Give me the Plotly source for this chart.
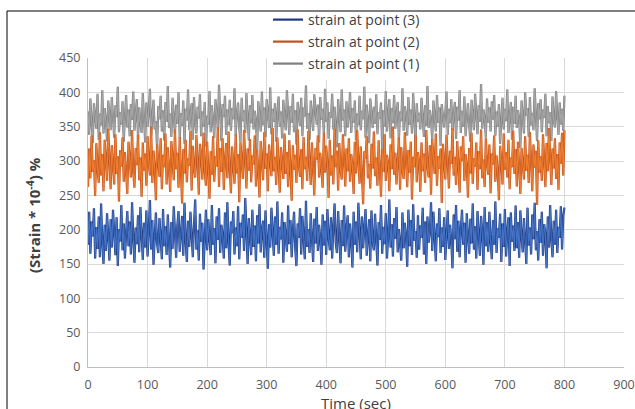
import plotly.graph_objects as go

step_sec = 2
time_sec = [i * step_sec for i in range(401)]

strain_point3 = [
178, 226, 165, 212, 190, 231, 158, 204, 172, 219, 160, 238, 181, 150, 207, 169, 224, 186, 155, 215,
174, 229, 192, 163, 218, 147, 201, 183, 236, 170, 209, 158, 195, 227, 176, 212, 164, 240, 188, 152,
203, 179, 221, 167, 233, 185, 156, 210, 174, 228, 161, 199, 243, 171, 214, 149, 190, 225, 180, 166,
217, 193, 157, 230, 176, 205, 163, 222, 188, 145, 211, 172, 234, 181, 159, 206, 227, 168, 196, 220,
162, 239, 184, 153, 213, 175, 226, 190, 160, 208, 244, 171, 199, 155, 223, 182, 210, 142, 194, 229,
170, 215, 187, 163, 236, 178, 202, 151, 219, 185, 231, 166, 207, 192, 158, 225, 173, 240, 181, 148,
212, 195, 227, 164, 203, 176, 234, 157, 210, 188, 222, 169, 246, 183, 150, 217, 192, 163, 229, 175,
206, 154, 221, 180, 237, 167, 199, 213, 159, 228, 185, 143, 208, 174, 232, 190, 162, 219, 178, 241,
165, 204, 186, 225, 152, 211, 193, 168, 235, 179, 214, 160, 198, 226, 172, 147, 209, 188, 231, 164,
220, 183, 157, 242, 175, 201, 166, 224, 191, 153, 216, 180, 233, 169, 207, 186, 149, 222, 177, 213,
163, 230, 189, 170, 218, 158, 205, 238, 181, 166, 227, 194, 151, 214, 176, 235, 168, 200, 221, 160,
209, 184, 145, 226, 178, 212, 167, 239, 190, 157, 219, 173, 203, 230, 162, 196, 215, 154, 228, 182,
170, 223, 193, 148, 211, 185, 236, 165, 204, 179, 224, 158, 192, 244, 174, 208, 161, 217, 187, 233,
167, 201, 180, 155, 225, 173, 210, 190, 146, 229, 176, 214, 163, 237, 184, 198, 159, 221, 171, 206,
188, 232, 164, 212, 150, 219, 181, 197, 240, 169, 226, 177, 154, 209, 189, 231, 166, 203, 175, 218,
156, 194, 228, 172, 207, 183, 144, 222, 186, 236, 168, 213, 160, 199, 229, 178, 210, 152, 224, 191,
165, 216, 180, 238, 171, 205, 158, 227, 187, 162, 220, 196, 149, 233, 176, 211, 168, 226, 183, 157,
214, 178, 241, 166, 202, 188, 223, 153, 209, 175, 230, 161, 197, 218, 147, 225, 182, 206, 169, 235,
173, 211, 159, 228, 190, 167, 217, 184, 150, 232, 177, 203, 164, 222, 186, 239, 170, 198, 155, 215,
181, 226, 162, 208, 193, 144, 219, 174, 236, 185, 160, 213, 178, 229, 166, 204, 188, 234, 171, 220,
232]

strain_point2 = [
262, 318, 275, 337, 284, 301, 249, 326, 290, 268, 342, 279, 310, 256, 331, 295, 271, 347, 287, 259,
323, 298, 266, 339, 281, 307, 241, 316, 292, 334, 270, 313, 288, 252, 328, 303, 276, 345, 283, 261,
319, 294, 338, 272, 305, 248, 327, 286, 311, 264, 336, 297, 279, 350, 268, 315, 290, 243, 324, 301,
277, 333, 259, 309, 291, 340, 266, 320, 284, 255, 329, 302, 272, 346, 288, 312, 261, 335, 296, 238,
317, 282, 331, 269, 304, 293, 344, 257, 322, 287, 276, 338, 299, 251, 325, 310, 273, 341, 285, 264,
328, 296, 245, 314, 280, 336, 270, 307, 292, 349, 262, 319, 284, 333, 258, 301, 326, 275, 343, 289,
253, 321, 298, 267, 339, 282, 310, 240, 327, 291, 274, 345, 303, 260, 318, 286, 332, 269, 308, 295,
337, 263, 316, 283, 247, 329, 300, 272, 342, 289, 311, 256, 324, 297, 278, 348, 285, 306, 265, 334,
292, 254, 320, 301, 274, 340, 281, 313, 262, 330, 295, 242, 323, 287, 309, 268, 346, 293, 277, 317,
259, 335, 288, 306, 271, 344, 298, 265, 327, 284, 250, 319, 302, 337, 276, 312, 290, 261, 341, 283,
322, 296, 246, 331, 279, 308, 266, 347, 291, 315, 257, 326, 287, 273, 339, 300, 263, 318, 285, 333,
270, 310, 294, 252, 328, 282, 345, 299, 267, 321, 286, 237, 314, 303, 336, 275, 296, 260, 325, 289,
343, 278, 305, 264, 330, 293, 248, 317, 284, 339, 271, 309, 297, 256, 324, 288, 350, 280, 312, 266,
301, 334, 258, 320, 287, 274, 342, 295, 262, 316, 283, 328, 244, 306, 291, 337, 269, 313, 299, 255,
327, 285, 311, 268, 345, 292, 276, 323, 251, 332, 297, 281, 340, 264, 307, 289, 318, 239, 325, 302,
273, 338, 290, 260, 315, 296, 348, 279, 306, 265, 329, 286, 254, 321, 300, 336, 271, 310, 293, 247,
319, 282, 341, 267, 304, 292, 327, 258, 314, 288, 346, 275, 302, 262, 333, 297, 280, 324, 253, 311,
295, 337, 270, 308, 284, 243, 322, 299, 266, 340, 287, 313, 276, 331, 259, 305, 291, 344, 281, 317,
263, 328, 294, 252, 319, 301, 273, 336, 286, 309, 268, 342, 297, 256, 324, 290, 315, 236, 330, 283,
307, 271, 339, 292, 262, 326, 285, 348, 298, 265, 318, 289, 333, 274, 310, 258, 327, 296, 341, 279,
345]

strain_point1 = [
372, 338, 391, 355, 326, 384, 362, 347, 398, 331, 369, 352, 403, 340, 377, 359, 329, 388, 366, 345,
393, 357, 334, 381, 364, 408, 342, 371, 353, 387, 328, 362, 396, 349, 375, 336, 383, 360, 401, 344,
368, 390, 332, 378, 355, 341, 399, 363, 327, 385, 350, 373, 405, 337, 366, 389, 346, 358, 318, 380,
361, 395, 343, 374, 330, 386, 357, 409, 348, 369, 335, 392, 365, 339, 382, 354, 400, 333, 370, 351,
388, 325, 376, 359, 404, 345, 367, 384, 331, 393, 356, 340, 379, 362, 397, 336, 372, 350, 386, 321,
366, 353, 402, 342, 381, 360, 334, 390, 371, 347, 411, 356, 329, 383, 364, 395, 338, 375, 352, 389,
344, 377, 361, 406, 337, 369, 385, 349, 327, 392, 358, 374, 341, 399, 363, 330, 381, 355, 396, 346,
373, 358, 314, 387, 365, 343, 401, 352, 378, 335, 390, 362, 348, 407, 339, 376, 357, 384, 328, 368,
394, 350, 372, 333, 389, 361, 345, 403, 367, 338, 380, 356, 398, 342, 374, 324, 386, 363, 351, 392,
336, 378, 365, 410, 347, 370, 331, 388, 359, 344, 397, 368, 353, 382, 327, 393, 360, 376, 340, 405,
357, 385, 332, 371, 363, 398, 346, 379, 354, 320, 390, 367, 342, 404, 359, 375, 336, 387, 349, 366,
400, 341, 377, 356, 388, 330, 369, 352, 395, 345, 373, 361, 408, 334, 382, 358, 326, 391, 364, 348,
379, 354, 397, 339, 371, 362, 385, 316, 374, 350, 402, 343, 368, 390, 333, 377, 355, 396, 347, 365,
386, 329, 372, 358, 406, 344, 380, 366, 337, 393, 353, 375, 340, 399, 361, 327, 384, 357, 370, 346,
392, 363, 335, 381, 351, 409, 348, 374, 360, 330, 388, 365, 343, 396, 356, 378, 322, 383, 362, 349,
371, 401, 338, 376, 355, 390, 344, 368, 386, 332, 379, 359, 403, 341, 373, 350, 394, 336, 367, 384,
353, 328, 389, 364, 345, 398, 370, 339, 381, 357, 412, 347, 375, 362, 334, 391, 356, 378, 343, 387,
360, 396, 337, 372, 350, 383, 325, 369, 392, 346, 376, 358, 404, 341, 365, 386, 331, 379, 354, 395,
348, 374, 362, 319, 388, 356, 340, 400, 366, 377, 335, 393, 352, 370, 345, 406, 358, 329, 384, 361,
390, 342, 375, 363, 398, 336, 380, 355, 371, 329, 394, 359, 349, 402, 364, 338, 385, 353, 376, 344,
395]

series_names = ["strain at point (1)", "strain at point (2)", "strain at point (3)"]
dark_colors = ["#7F7F7F", "#C0501A", "#1F3A80"]
light_colors = ["#A5A5A5", "#ED7D31", "#4472C4"]
legend_ids = ["legend3", "legend2", "legend"]
x_title = "Time (sec)"
y_title = "<b>(Strain * 10<sup>-4</sup>) %</b>"

W, H = 635, 409
ml, mr, mt, mb = 88, 11, 58, 42
pw, ph = W - ml - mr, H - mt - mb

def py(page_y):
    return (H - mb - page_y) / ph

def px(page_x):
    return (page_x - ml) / pw

fig = go.Figure()
for vals, name, dc, lc, lg in zip([strain_point1, strain_point2, strain_point3],
                                   series_names, dark_colors, light_colors, legend_ids):
    fig.add_trace(go.Scatter(x=time_sec, y=vals, mode="lines", name=name,
                             line=dict(color=dc, width=2.2), legend=lg))
    fig.add_trace(go.Scatter(x=time_sec, y=vals, mode="lines", name=name,
                             line=dict(color=lc, width=1.1), showlegend=False,
                             hoverinfo="skip"))

leg_font = dict(family="Open Sans", size=14, color="#404040")
def leg(ycenter, bg):
    return dict(x=px(268), xanchor="left", y=py(ycenter), yanchor="middle",
                bgcolor=bg, font=leg_font, borderwidth=0,
                itemwidth=30, tracegroupgap=0)

fig.update_layout(
    width=W, height=H,
    margin=dict(l=ml, r=mr, t=mt, b=mb, autoexpand=False),
    paper_bgcolor="white", plot_bgcolor="white",
    font=dict(family="Open Sans", size=12.5, color="#595959"),
    legend=leg(20, "rgba(0,0,0,0)"), legend2=leg(42, "rgba(0,0,0,0)"),
    legend3=leg(64, "white"),
    xaxis=dict(range=[0, 900], dtick=100, tick0=0, showgrid=True,
               gridcolor="#D9D9D9", gridwidth=1, showline=True,
               linecolor="#BFBFBF", linewidth=1, zeroline=False,
               ticks="", ticklabelstandoff=6,
               tickfont=dict(size=12.5, color="#595959")),
    yaxis=dict(range=[0, 450], dtick=50, tick0=0, showgrid=True,
               gridcolor="#D9D9D9", gridwidth=1, showline=True,
               linecolor="#BFBFBF", linewidth=1, zeroline=False,
               ticks="", ticklabelstandoff=4,
               tickfont=dict(size=12.5, color="#595959")),
    annotations=[
        dict(text=x_title, xref="paper", yref="paper", x=0.5, y=py(403),
             xanchor="center", yanchor="middle", showarrow=False,
             font=dict(family="Open Sans", size=15, color="#404040")),
        dict(text=y_title, xref="paper", yref="paper", x=px(33), y=py(215),
             xanchor="center", yanchor="middle", showarrow=False, textangle=-90,
             font=dict(family="Open Sans", size=15, color="#404040")),
    ],
    shapes=[dict(type="rect", xref="paper", yref="paper",
                 x0=px(7), x1=px(660), y0=py(430), y1=py(11),
                 line=dict(color="#000000", width=1), fillcolor="rgba(0,0,0,0)",
                 layer="below")],
    showlegend=True,
)

# remove the browser's default 8 px page margin so the figure fills the window exactly
fig.write_html("out.html", config={"displayModeBar": False},
               post_script="document.body.style.margin='0';document.body.style.overflow='hidden';")
